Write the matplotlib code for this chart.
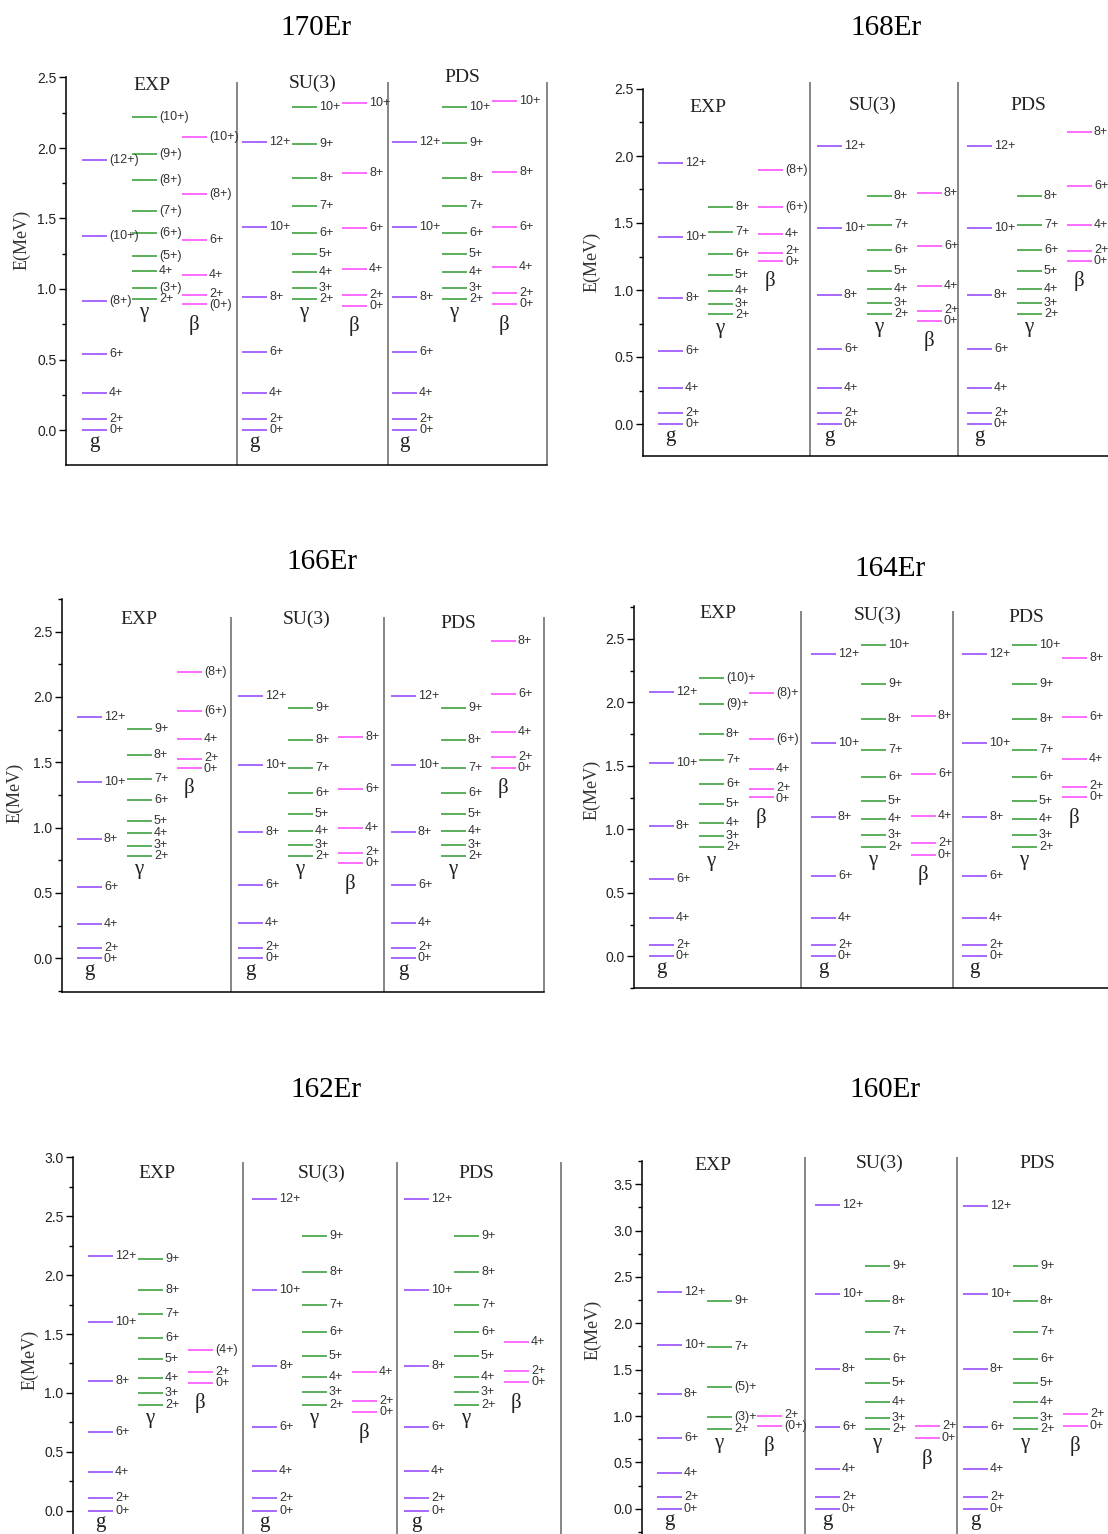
import matplotlib
matplotlib.use("Agg")
import matplotlib.pyplot as plt
from matplotlib.ticker import MultipleLocator, FormatStrFormatter

# --- level energies (MeV) ---

# 170Er
er170_exp_g = [0.0, 0.076, 0.260, 0.540, 0.917, 1.378, 1.915]
er170_exp_g_lab = ["0+", "2+", "4+", "6+", "(8+)", "(10+)", "(12+)"]
er170_exp_gam = [0.929, 1.007, 1.128, 1.234, 1.400, 1.553, 1.770, 1.957, 2.217]
er170_exp_gam_lab = ["2+", "(3+)", "4+", "(5+)", "(6+)", "(7+)", "(8+)", "(9+)", "(10+)"]
er170_exp_beta = [0.891, 0.955, 1.099, 1.348, 1.676, 2.076]
er170_exp_beta_lab = ["(0+)", "2+", "4+", "6+", "(8+)", "(10+)"]
er170_su3_g = [0.0, 0.076, 0.265, 0.550, 0.940, 1.440, 2.045]
er170_su3_gam = [0.930, 1.010, 1.120, 1.250, 1.400, 1.590, 1.790, 2.030, 2.290]
er170_su3_beta = [0.880, 0.957, 1.140, 1.430, 1.820, 2.320]
er170_pds_g = [0.0, 0.076, 0.265, 0.550, 0.940, 1.440, 2.045]
er170_pds_gam = [0.930, 1.010, 1.120, 1.250, 1.400, 1.590, 1.790, 2.035, 2.290]
er170_pds_beta = [0.891, 0.970, 1.155, 1.440, 1.830, 2.330]

# 168Er
er168_exp_g = [0.0, 0.080, 0.266, 0.547, 0.940, 1.393, 1.945]
er168_exp_g_lab = ["0+", "2+", "4+", "6+", "8+", "10+", "12+"]
er168_exp_gam = [0.820, 0.893, 0.995, 1.112, 1.266, 1.430, 1.622]
er168_exp_gam_lab = ["2+", "3+", "4+", "5+", "6+", "7+", "8+"]
er168_exp_beta = [1.219, 1.279, 1.415, 1.617, 1.893]
er168_exp_beta_lab = ["0+", "2+", "4+", "(6+)", "(8+)"]
er168_su3_g = [0.0, 0.080, 0.266, 0.557, 0.963, 1.460, 2.075]
er168_su3_gam = [0.823, 0.900, 1.007, 1.140, 1.300, 1.485, 1.704]
er168_su3_beta = [0.769, 0.846, 1.032, 1.326, 1.726]
er168_pds_g = [0.0, 0.080, 0.266, 0.557, 0.963, 1.460, 2.075]
er168_pds_gam = [0.823, 0.900, 1.007, 1.140, 1.300, 1.485, 1.700]
er168_pds_beta = [1.219, 1.294, 1.485, 1.776, 2.177]

# 166Er
er166_exp_g = [0.0, 0.077, 0.260, 0.543, 0.911, 1.347, 1.844]
er166_exp_g_lab = ["0+", "2+", "4+", "6+", "8+", "10+", "12+"]
er166_exp_gam = [0.783, 0.860, 0.957, 1.054, 1.214, 1.372, 1.556, 1.753]
er166_exp_gam_lab = ["2+", "3+", "4+", "5+", "6+", "7+", "8+", "9+"]
er166_exp_beta = [1.459, 1.523, 1.676, 1.890, 2.194]
er166_exp_beta_lab = ["0+", "2+", "4+", "(6+)", "(8+)"]
er166_su3_g = [0.0, 0.082, 0.268, 0.561, 0.967, 1.477, 2.008]
er166_su3_gam = [0.786, 0.865, 0.972, 1.107, 1.268, 1.459, 1.671, 1.913]
er166_su3_beta = [0.727, 0.809, 0.997, 1.296, 1.696]
er166_pds_g = [0.0, 0.082, 0.268, 0.561, 0.967, 1.477, 2.008]
er166_pds_gam = [0.786, 0.865, 0.972, 1.107, 1.268, 1.459, 1.671, 1.913]
er166_pds_beta = [1.459, 1.538, 1.732, 2.023, 2.429]

# 164Er
er164_exp_g = [0.0, 0.089, 0.300, 0.609, 1.029, 1.520, 2.084]
er164_exp_g_lab = ["0+", "2+", "4+", "6+", "8+", "10+", "12+"]
er164_exp_gam = [0.858, 0.948, 1.052, 1.197, 1.360, 1.549, 1.748, 1.984, 2.189]
er164_exp_gam_lab = ["2+", "3+", "4+", "5+", "6+", "7+", "8+", "(9)+", "(10)+"]
er164_exp_beta = [1.252, 1.318, 1.475, 1.709, 2.071]
er164_exp_beta_lab = ["0+", "2+", "4+", "(6+)", "(8)+"]
er164_su3_g = [0.0, 0.089, 0.300, 0.635, 1.094, 1.682, 2.380]
er164_su3_gam = [0.861, 0.955, 1.079, 1.226, 1.409, 1.625, 1.869, 2.142, 2.451]
er164_su3_beta = [0.798, 0.890, 1.105, 1.436, 1.895]
er164_pds_g = [0.0, 0.089, 0.300, 0.635, 1.094, 1.682, 2.380]
er164_pds_gam = [0.861, 0.955, 1.079, 1.226, 1.409, 1.625, 1.869, 2.142, 2.451]
er164_pds_beta = [1.252, 1.336, 1.551, 1.887, 2.346]

# 162Er
er162_exp_g = [0.0, 0.105, 0.331, 0.666, 1.102, 1.600, 2.159]
er162_exp_g_lab = ["0+", "2+", "4+", "6+", "8+", "10+", "12+"]
er162_exp_gam = [0.898, 1.000, 1.125, 1.286, 1.462, 1.669, 1.875, 2.136]
er162_exp_gam_lab = ["2+", "3+", "4+", "5+", "6+", "7+", "8+", "9+"]
er162_exp_beta = [1.088, 1.176, 1.365]
er162_exp_beta_lab = ["0+", "2+", "(4+)"]
er162_su3_g = [0.0, 0.105, 0.340, 0.714, 1.229, 1.870, 2.649]
er162_su3_gam = [0.898, 1.006, 1.139, 1.309, 1.516, 1.748, 2.023, 2.329]
er162_su3_beta = [0.836, 0.935, 1.176]
er162_pds_g = [0.0, 0.105, 0.340, 0.714, 1.229, 1.870, 2.649]
er162_pds_gam = [0.898, 1.006, 1.139, 1.309, 1.516, 1.748, 2.023, 2.335]
er162_pds_beta = [1.091, 1.190, 1.428]

# 160Er
er160_exp_g = [0.0, 0.122, 0.389, 0.766, 1.234, 1.763, 2.335]
er160_exp_g_lab = ["0+", "2+", "4+", "6+", "8+", "10+", "12+"]
er160_exp_gam = [0.856, 0.986, 1.310, 1.741, 2.245]
er160_exp_gam_lab = ["2+", "(3)+", "(5)+", "7+", "9+"]
er160_exp_beta = [0.892, 1.004]
er160_exp_beta_lab = ["(0+)", "2+"]
er160_su3_g = [0.0, 0.122, 0.424, 0.885, 1.507, 2.313, 3.277]
er160_su3_gam = [0.856, 0.982, 1.147, 1.360, 1.615, 1.910, 2.241, 2.619]
er160_su3_beta = [0.759, 0.892]
er160_pds_g = [0.0, 0.122, 0.424, 0.885, 1.507, 2.313, 3.270]
er160_pds_gam = [0.856, 0.982, 1.147, 1.360, 1.615, 1.910, 2.241, 2.619]
er160_pds_beta = [0.892, 1.018]


def spin_labels(vals, band):
    # theory bands: g 0,2,4..  gamma 2,3,4..  beta 0,2,4..
    if band == "gam":
        return [f"{2 + i}+" for i in range(len(vals))]
    return [f"{2 * i}+" for i in range(len(vals))]


def spread(vals, gap):
    # push apart label positions of levels that sit too close
    pos = list(vals)
    for _ in range(20):
        moved = False
        for i in range(len(pos) - 1):
            d = pos[i + 1] - pos[i]
            if d < gap:
                s = (gap - d) / 2
                pos[i] -= s
                pos[i + 1] += s
                moved = True
        if not moved:
            break
    return pos


nuclei = {
    "170Er": dict(
        exp=((er170_exp_g, er170_exp_g_lab), (er170_exp_gam, er170_exp_gam_lab), (er170_exp_beta, er170_exp_beta_lab)),
        su3=(er170_su3_g, er170_su3_gam, er170_su3_beta),
        pds=(er170_pds_g, er170_pds_gam, er170_pds_beta)),
    "168Er": dict(
        exp=((er168_exp_g, er168_exp_g_lab), (er168_exp_gam, er168_exp_gam_lab), (er168_exp_beta, er168_exp_beta_lab)),
        su3=(er168_su3_g, er168_su3_gam, er168_su3_beta),
        pds=(er168_pds_g, er168_pds_gam, er168_pds_beta)),
    "166Er": dict(
        exp=((er166_exp_g, er166_exp_g_lab), (er166_exp_gam, er166_exp_gam_lab), (er166_exp_beta, er166_exp_beta_lab)),
        su3=(er166_su3_g, er166_su3_gam, er166_su3_beta),
        pds=(er166_pds_g, er166_pds_gam, er166_pds_beta)),
    "164Er": dict(
        exp=((er164_exp_g, er164_exp_g_lab), (er164_exp_gam, er164_exp_gam_lab), (er164_exp_beta, er164_exp_beta_lab)),
        su3=(er164_su3_g, er164_su3_gam, er164_su3_beta),
        pds=(er164_pds_g, er164_pds_gam, er164_pds_beta)),
    "162Er": dict(
        exp=((er162_exp_g, er162_exp_g_lab), (er162_exp_gam, er162_exp_gam_lab), (er162_exp_beta, er162_exp_beta_lab)),
        su3=(er162_su3_g, er162_su3_gam, er162_su3_beta),
        pds=(er162_pds_g, er162_pds_gam, er162_pds_beta)),
    "160Er": dict(
        exp=((er160_exp_g, er160_exp_g_lab), (er160_exp_gam, er160_exp_gam_lab), (er160_exp_beta, er160_exp_beta_lab)),
        su3=(er160_su3_g, er160_su3_gam, er160_su3_beta),
        pds=(er160_pds_g, er160_pds_gam, er160_pds_beta)),
}

# --- layout, in pixels of the 1108x1534 picture ---
layout = {
    "170Er": dict(left=66, right=547, zero=430, ppm=141.0, ylim=(-0.248, 2.5), seps=(237, 388), border=547,
                  sep_top=2.47, cols=(82, 242, 392), title=(316, 28), ylab=(22, 240),
                  heads=((152, 85), (313, 83), (462, 78))),
    "168Er": dict(left=643, right=1108, zero=424, ppm=134.0, ylim=(-0.239, 2.5), seps=(810, 958), border=None,
                  sep_top=2.55, cols=(658, 817, 967), title=(886, 28), ylab=(592, 262),
                  heads=((708, 107), (873, 105), (1028, 105))),
    "166Er": dict(left=62, right=544, zero=958.3, ppm=130.7, ylim=(-0.257, 2.75), seps=(231, 384), border=544,
                  sep_top=2.61, cols=(77, 238, 391), title=(322, 562), ylab=(15, 793),
                  heads=((139, 619), (307, 619), (458, 623))),
    "164Er": dict(left=634, right=1108, zero=956.3, ppm=127.0, ylim=(-0.25, 2.76), seps=(801, 953), border=None,
                  sep_top=2.72, cols=(649, 811, 962), title=(890, 569), ylab=(592, 790),
                  heads=((718, 614), (878, 615), (1026, 617))),
    "162Er": dict(left=73, right=561, zero=1510.7, ppm=117.8, ylim=(-0.29, 3.0), seps=(243, 397), border=561,
                  sep_top=2.96, cols=(88, 252, 404), title=(326, 1090), ylab=(30, 1360),
                  heads=((157, 1173), (322, 1173), (476, 1174))),
    "160Er": dict(left=642, right=1108, zero=1508.7, ppm=92.7, ylim=(-0.39, 3.755), seps=(805, 957), border=None,
                  sep_top=3.79, cols=(657, 815, 963), title=(885, 1090), ylab=(593, 1330),
                  heads=((713, 1165), (880, 1163), (1037, 1163))),
}

W, H = 1108, 1534
COLORS = ("#9040ff", "#2e9a2e", "#ff44ff")
BAND_SYM = ("g", "γ", "β")
SYM_OFF = (-1.8, -3.2, -7.5)
BAND_DX = (0, 50, 100)
LINE_LEN = 25
LAB_GAP_PX = 11
SERIF = "Liberation Serif"
SANS = "Liberation Sans"
LAB_COLOR = "#333333"

fig = plt.figure(figsize=(W / 100, H / 100), dpi=100)

for name, lay in layout.items():
    nuc = nuclei[name]
    ymin, ymax = lay["ylim"]
    top_px = lay["zero"] - ymax * lay["ppm"]
    bot_px = lay["zero"] - ymin * lay["ppm"]
    ax = fig.add_axes([lay["left"] / W, 1 - bot_px / H,
                       (lay["right"] - lay["left"]) / W, (bot_px - top_px) / H])
    ax.set_xlim(lay["left"], lay["right"])
    ax.set_ylim(ymin, ymax)
    ax.patch.set_alpha(0)

    def ypx(p):
        return (lay["zero"] - p) / lay["ppm"]

    sections = [nuc["exp"],
                [(v, spin_labels(v, b)) for v, b in zip(nuc["su3"], ("g", "gam", "beta"))],
                [(v, spin_labels(v, b)) for v, b in zip(nuc["pds"], ("g", "gam", "beta"))]]

    for sec, x0 in zip(sections, lay["cols"]):
        for k, (vals, labs) in enumerate(sec):
            xs = x0 + BAND_DX[k]
            ax.hlines(vals, xs, xs + LINE_LEN, colors=COLORS[k], lw=1.1)
            for yl, lab in zip(spread(vals, LAB_GAP_PX / lay["ppm"]), labs):
                ax.text(xs + LINE_LEN + 2, yl, lab, ha="left", va="center",
                        fontsize=9, family=SANS, color=LAB_COLOR)
            ax.annotate(BAND_SYM[k], (xs + 12, min(vals)), xytext=(0, SYM_OFF[k]),
                        textcoords="offset points", ha="center", va="top",
                        fontsize=15, family=SERIF, color="#222222")

    # vertical separators between EXP / SU(3) / PDS
    xl = list(lay["seps"])
    if lay["border"] is not None:
        xl.append(lay["border"])
    ax.vlines(xl, ymin, lay["sep_top"], colors="#666666", lw=1.1, clip_on=False)

    for (hx, hy), txt in zip(lay["heads"], ("EXP", "SU(3)", "PDS")):
        ax.text(hx, ypx(hy), txt, ha="center", va="center", fontsize=14,
                family=SERIF, color="#222222", clip_on=False)

    ax.spines["top"].set_visible(False)
    ax.spines["right"].set_visible(False)
    ax.spines["left"].set_linewidth(1.1)
    ax.spines["bottom"].set_linewidth(1.1)
    ax.set_xticks([])
    ax.yaxis.set_major_locator(MultipleLocator(0.5))
    ax.yaxis.set_minor_locator(MultipleLocator(0.25))
    ax.yaxis.set_major_formatter(FormatStrFormatter("%.1f"))
    ax.tick_params(axis="y", which="major", direction="out", length=5, width=1, pad=2,
                   labelsize=10, labelcolor="#222222")
    ax.tick_params(axis="y", which="minor", direction="out", length=3, width=1)
    for t in ax.get_yticklabels():
        t.set_family(SANS)

    tx, ty = lay["title"]
    fig.text(tx / W, 1 - ty / H, name, ha="center", va="center", fontsize=21, family=SERIF)
    lx, ly = lay["ylab"]
    fig.text(lx / W, 1 - ly / H, "E(MeV)", ha="center", va="center", rotation=90,
             fontsize=13, family=SERIF, color="#333333")

fig.savefig("out.png", dpi=100)
